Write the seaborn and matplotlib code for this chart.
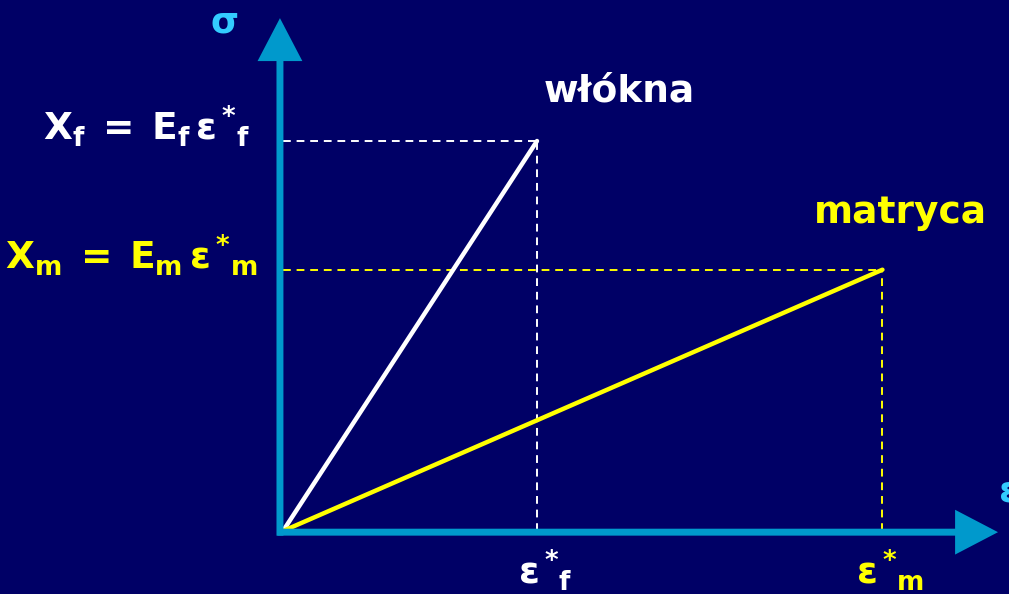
import matplotlib
matplotlib.use("Agg")
import matplotlib.pyplot as plt
import seaborn as sns
import pandas as pd

# wartości (jednostki względne)
materialy = ["włókna", "matryca"]
eps_graniczne = [1.0, 2.36]      # eps*_f, eps*_m
naprezenia = [1.0, 0.67]         # X_f, X_m
kolory = ["#ffffff", "#ffff00"]

tlo = "#000066"
kolor_osi = "#0099cc"
kolor_sigma = "#33ccff"

df = pd.DataFrame({
    "material": [m for m in materialy for _ in range(2)],
    "eps": [v for e in eps_graniczne for v in (0.0, e)],
    "sigma": [v for s in naprezenia for v in (0.0, s)],
})

sns.set_style("white")
plt.rcParams["mathtext.fontset"] = "dejavusans"

fig = plt.figure(figsize=(10.09, 5.94), dpi=100, facecolor=tlo)
ax = fig.add_axes([0, 0, 1, 1])
ax.set_facecolor(tlo)

# skala: 254 px na jednostkę eps, 390 px na jednostkę sigma, początek w (283, 531)
ax.set_xlim(-283 / 254, (1009 - 283) / 254)
ax.set_ylim(-(594 - 531) / 390, 531 / 390)

# linie przerywane
for e, s, c in zip(eps_graniczne, naprezenia, kolory):
    ax.plot([0, e], [s, s], color=c, lw=1.4, ls=(0, (4, 3)))
    ax.plot([e, e], [0, s], color=c, lw=1.4, ls=(0, (4, 3)))

# osie ze strzałkami
strzalka = dict(arrowstyle="-|>,head_width=0.6,head_length=1.15",
                mutation_scale=20, lw=5, color=kolor_osi,
                shrinkA=0, shrinkB=0, capstyle="butt", joinstyle="miter")
ax.annotate("", xy=(-0.012, 1.315), xytext=(-0.012, -0.012), arrowprops=strzalka)
ax.annotate("", xy=(2.815, -0.003), xytext=(-0.022, -0.003), arrowprops=strzalka)

sns.lineplot(data=df, x="eps", y="sigma", hue="material",
             palette=dict(zip(materialy, kolory)), lw=3.2,
             legend=False, ax=ax, sort=False)

# opisy
ax.text(-0.13, naprezenia[0], r"$\mathbf{X_f\;=\;E_f\,\varepsilon^*\!{}_f}$",
        color=kolory[0], fontsize=27, ha="right", va="baseline")
ax.text(-0.1, naprezenia[1], r"$\mathbf{X_m\;=\;E_m\,\varepsilon^*\!{}_m}$",
        color=kolory[1], fontsize=27, ha="right", va="baseline")
ax.text(1.025, 1.10, materialy[0], color=kolory[0], fontsize=27,
        fontweight="bold", ha="left", va="baseline")
ax.text(2.09, 0.79, materialy[1], color=kolory[1], fontsize=27,
        fontweight="bold", ha="left", va="baseline")
ax.text(eps_graniczne[0] + 0.03, -0.138, r"$\mathbf{\varepsilon^*\!{}_f}$",
        color=kolory[0], fontsize=27, ha="center", va="baseline")
ax.text(eps_graniczne[1] + 0.03, -0.138, r"$\mathbf{\varepsilon^*\!{}_m}$",
        color=kolory[1], fontsize=27, ha="center", va="baseline")
ax.text(-0.232, 1.305, r"$\mathbf{\sigma}$", color=kolor_sigma,
        fontsize=26, ha="center", va="center")
ax.text(2.815, 0.075, r"$\mathbf{\varepsilon}$", color=kolor_sigma,
        fontsize=26, ha="left", va="baseline")

ax.set_axis_off()
fig.savefig("out.png", dpi=100, facecolor=tlo)
